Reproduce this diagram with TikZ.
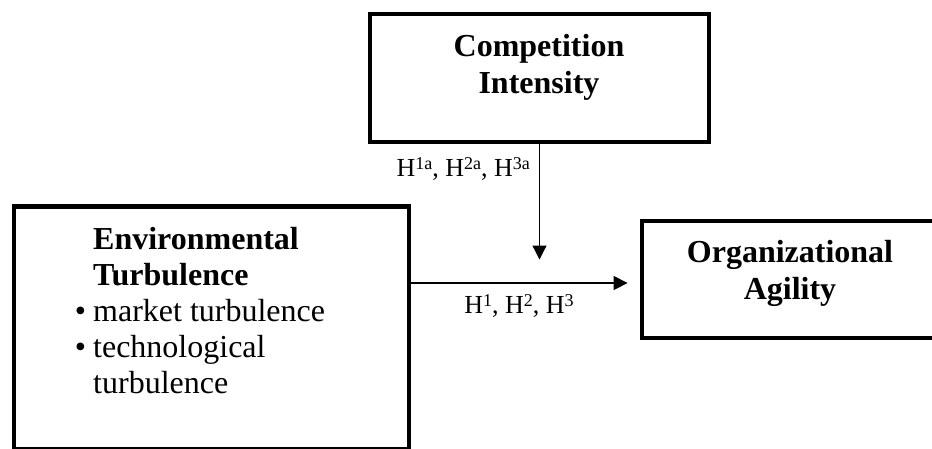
\documentclass[tikz,border=0pt]{standalone}
\usepackage{fontspec}
\setmainfont{Liberation Serif}
\usetikzlibrary{positioning}
\usetikzlibrary{arrows.meta}

\newcommand{\hsup}[1]{\raisebox{7pt}{\fontsize{18}{18}\selectfont #1}}

\begin{document}
\begin{tikzpicture}[x=1pt, y=-1pt,
    box/.style={draw, line width=4.8pt, inner sep=0pt},
    title/.style={font=\fontsize{32}{36.5}\selectfont\bfseries, align=center, inner sep=0pt},
    items/.style={font=\fontsize{32}{36}\selectfont, align=left, inner sep=0pt},
    hyp/.style={font=\fontsize{26}{28}\selectfont, inner sep=0pt},
    arr/.style={line width=1.3pt, -{Triangle[length=14pt, width=14pt]}}]
    \useasboundingbox (0,0) rectangle (932,448);
    % boxes
    \node[box, minimum width=339pt, minimum height=128pt] (comp) at (539.5,78) {};
    \node[box, minimum width=395pt, minimum height=243pt] (env) at (211.5,328) {};
    \node[box, minimum width=300pt, minimum height=117pt] (org) at (792,279.5) {};
    % texts (base = last line)
    \node[title, anchor=base] (comptext) at (539,93) {Competition\\Intensity};
    \node[title, anchor=base] (orgtext) at (790,299) {Organizational\\Agility};
    \node[items, anchor=base west] (envtext) at (93,393) {\textbf{Environmental}\\\textbf{Turbulence}\\\llap{\textbullet\hspace{7pt}}market turbulence\\\llap{\textbullet\hspace{7pt}}technological\\turbulence};
    % arrows
    \coordinate (vtip) at (comp.south |- 0,259.5);
    \coordinate (htip) at ([xshift=-12pt]org.west |- 0,283);
    \draw[arr] (comp.south) -- (vtip);
    \draw[arr] (env.east |- htip) -- (htip);
    %\draw[arr] (env.east) -- (org.west);
    \node[hyp, anchor=base east] (hmod) at (530,176) {H\hsup{1a}, H\hsup{2a}, H\hsup{3a}};
    \node[hyp, anchor=base] (hmain) at (519,313) {H\hsup{1}, H\hsup{2}, H\hsup{3}};
\end{tikzpicture}
\end{document}
